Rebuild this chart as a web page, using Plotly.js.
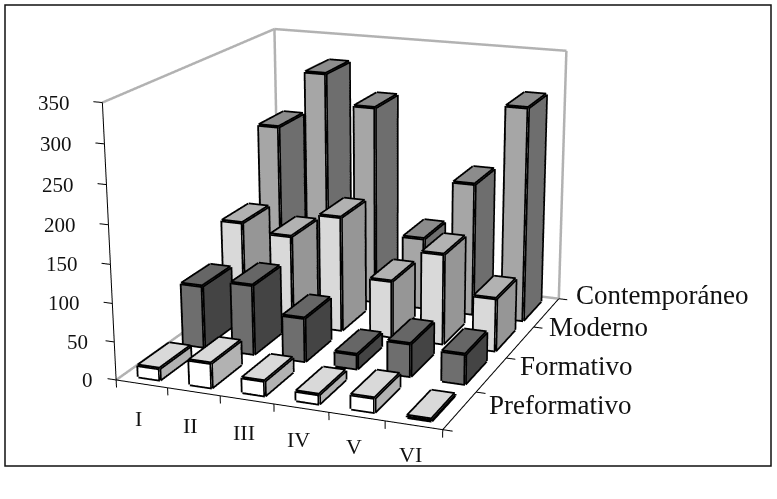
<!DOCTYPE html>
<html><head><meta charset="utf-8">
<script src="https://cdn.plot.ly/plotly-3.0.1.min.js"></script>
<style>html,body{margin:0;padding:0;width:777px;height:499px;overflow:hidden;background:#fff}
#wrap{position:absolute;left:0;top:0;width:777px;height:499px;overflow:hidden}
#chart{position:absolute}</style></head>
<body><div id="wrap"><div id="chart"></div></div>
<script>
const periods = ['I','II','III','IV','V','VI'];
const seriesNames = ['Preformativo','Formativo','Moderno','Contemporáneo'];
const preformativo = [15,32,19,12,18,2];
const formativo = [83,93,58,19,43,39];
const moderno = [133,122,156,77,122,71];
const contemporaneo = [236,316,275,99,183,293];
const zTicks = [0,50,100,150,200,250,300,350];
const faceColors = [
  {front:'#ffffff',side:'#b2b2b2',top:'#d9d9d9'},
  {front:'#6e6e6e',side:'#444444',top:'#666666'},
  {front:'#d9d9d9',side:'#969696',top:'#b2b2b2'},
  {front:'#a6a6a6',side:'#6e6e6e',top:'#8c8c8c'}
];
const S = 3, W = 777*S, H = 499*S, OX = (W-777)/2, OY = (H-499)/2;
const el = document.getElementById('chart');
el.style.left = (-OX)+'px'; el.style.top = (-OY)+'px';
const barW = 0.42, barD = 0.68, xMin=-0.5, xMax=5.5, yMin=-0.5, yMax=3.5, zMax=350;
const allSeries = [preformativo,formativo,moderno,contemporaneo];
const traces = [];
allSeries.forEach((vals,s)=>{
  const X=[],Y=[],Z=[],I=[],J=[],K=[],FC=[],LX=[],LY=[],LZ=[];
  vals.forEach((v,c)=>{
    const b=X.length, x0=c-barW/2,x1=c+barW/2,y0=s-barD/2,y1=s+barD/2;
    [[x0,y0,0],[x1,y0,0],[x1,y1,0],[x0,y1,0],[x0,y0,v],[x1,y0,v],[x1,y1,v],[x0,y1,v]].forEach(p=>{X.push(p[0]);Y.push(p[1]);Z.push(p[2]);});
    const col=faceColors[s];
    [[0,1,5,'front'],[0,5,4,'front'],[1,2,6,'side'],[1,6,5,'side'],[4,5,6,'top'],[4,6,7,'top'],[2,3,7,'front'],[2,7,6,'front'],[3,0,4,'side'],[3,4,7,'side'],[0,1,2,'top'],[0,2,3,'top']].forEach(t=>{
      I.push(b+t[0]);J.push(b+t[1]);K.push(b+t[2]);FC.push(col[t[3]]);
    });
    [[0,1],[1,2],[2,3],[3,0],[4,5],[5,6],[6,7],[7,4],[0,4],[1,5],[2,6],[3,7]].forEach(e=>{
      LX.push(X[b+e[0]],X[b+e[1]],null);LY.push(Y[b+e[0]],Y[b+e[1]],null);LZ.push(Z[b+e[0]],Z[b+e[1]],null);
    });
  });
  traces.push({type:'mesh3d',name:seriesNames[s],x:X,y:Y,z:Z,i:I,j:J,k:K,facecolor:FC,flatshading:true,
    lighting:{ambient:1,diffuse:0,specular:0,roughness:1,fresnel:0},hoverinfo:'skip',showscale:false});
  traces.push({type:'scatter3d',mode:'lines',x:LX,y:LY,z:LZ,line:{color:'#000',width:7},connectgaps:false,hoverinfo:'skip',showlegend:false});
});
function seg(list,a,b){list.x.push(a[0],b[0],null);list.y.push(a[1],b[1],null);list.z.push(a[2],b[2],null);}
const gray={x:[],y:[],z:[]}, black={x:[],y:[],z:[]};
seg(gray,[xMin,yMin,0],[xMin,yMax,0]);seg(gray,[xMin,yMax,0],[xMax,yMax,0]);seg(gray,[xMin,yMax,0],[xMin,yMax,zMax]);
seg(gray,[xMax,yMax,0],[xMax,yMax,zMax]);seg(gray,[xMin,yMin,zMax],[xMin,yMax,zMax]);seg(gray,[xMin,yMax,zMax],[xMax,yMax,zMax]);
seg(black,[xMin,yMin,0],[xMin,yMin,zMax]);seg(black,[xMin,yMin,0],[xMax,yMin,0]);seg(black,[xMax,yMin,0],[xMax,yMax,0]);
zTicks.forEach(t=>seg(black,[xMin,yMin,t],[xMin-0.17,yMin,t]));
for(let i=0;i<=periods.length;i++) seg(black,[xMin+i,yMin,0],[xMin+i,yMin,-10]);
for(let i=0;i<=seriesNames.length;i++) seg(black,[xMax,yMin+i,0],[xMax+0.17,yMin+i,0]);
traces.push({type:'scatter3d',mode:'lines',...gray,line:{color:'#b2b2b2',width:5},connectgaps:false,hoverinfo:'skip'});
traces.push({type:'scatter3d',mode:'lines',...black,line:{color:'#000',width:2},connectgaps:false,hoverinfo:'skip'});
const font='"Liberation Serif", serif';
const ann=[];
zTicks.forEach(t=>ann.push({x:xMin,y:yMin,z:t,text:String(t),showarrow:false,xanchor:'right',yanchor:'middle',xshift:t>=100?-30:(t==50?-24:-21),font:{family:font,size:21,color:'#111'}}));
periods.forEach((p,i)=>ann.push({x:i,y:yMin,z:0,text:p,showarrow:false,xanchor:'center',yanchor:'middle',xshift:-3,yshift:-35+i*1.2,font:{family:font,size:22,color:'#111'}}));
const ySeriesShift=[5,9,15,18];
seriesNames.forEach((n,i)=>ann.push({x:xMax,y:i,z:0,text:n,showarrow:false,xanchor:'left',yanchor:'middle',xshift:27,yshift:ySeriesShift[i],font:{family:font,size:27,color:'#111'}}));
const hidden={visible:false,showgrid:false,zeroline:false,showticklabels:false,showspikes:false,autorange:false};
Plotly.newPlot(el,traces,{
  width:W,height:H,margin:{l:0,r:0,t:0,b:0,pad:0},paper_bgcolor:'#fff',showlegend:false,
  shapes:[{type:'rect',xref:'paper',yref:'paper',x0:(OX+5)/W,x1:(OX+771)/W,y0:1-(OY+466)/H,y1:1-(OY+5)/H,line:{color:'#111',width:1.5}}],
  scene:{domain:{x:[0,1],y:[0,1]},bgcolor:'#fff',aspectmode:'manual',aspectratio:{x:0.8525,y:1.0178,z:0.7087},
    xaxis:{...hidden,range:[xMin-0.3,xMax+0.3]},yaxis:{...hidden,range:[yMin-0.3,yMax+0.3]},zaxis:{...hidden,range:[-20,zMax+20]},
    camera:{eye:{x:1.5311,y:-3.7379,z:1.1981},center:{x:0.0941,y:0.0051,z:-0.0899},up:{x:0,y:0,z:1},projection:{type:'perspective'}},
    annotations:ann}
},{displayModeBar:false});
</script></body></html>
